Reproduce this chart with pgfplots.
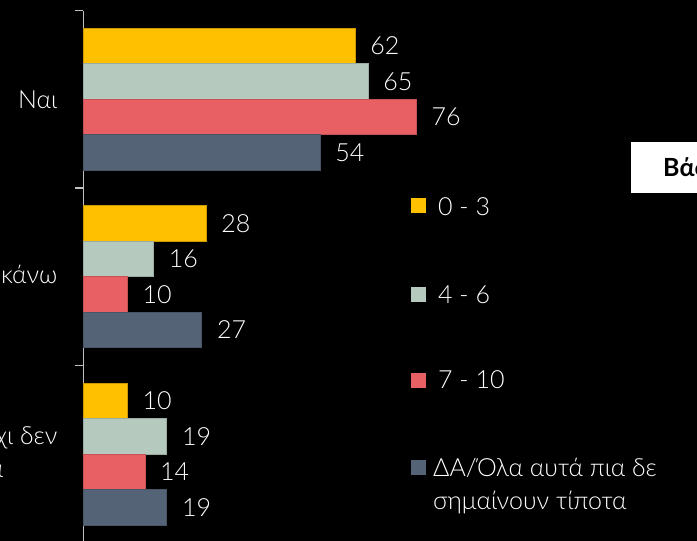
\documentclass[border=0pt]{standalone}
\usepackage{pgfplots}
\pgfplotsset{compat=1.18}
\usepackage{pgfplotstable}
\usepackage{fontspec}
\setmainfont{Lato}[UprightFont=* Light, BoldFont=* Bold]
\definecolor{cy}{HTML}{FFC000}
\definecolor{cg}{HTML}{B5C9BF}
\definecolor{cr}{HTML}{E96064}
\definecolor{cd}{HTML}{546476}
\definecolor{axg}{HTML}{BFBFBF}
\newcommand{\lbl}{\fontsize{25}{33}\selectfont}
\pgfplotstableread{
cat a b c d
0 62 65 76 54
1 28 16 10 27
2 10 19 14 19
}\data
\begin{document}
\begin{tikzpicture}[x=1pt,y=1pt]
\useasboundingbox (0pt,0pt) rectangle (697pt,541pt);
\clip (0pt,0pt) rectangle (697pt,541pt);
\fill[black] (0pt,0pt) rectangle (697pt,541pt);
\begin{axis}[
  at={(83.5pt,-2pt)}, anchor=south west,
  scale only axis, width=438pt, height=532.5pt,
  xbar, xmin=0, xmax=100,
  ymin=-0.5, ymax=2.5, y dir=reverse,
  axis x line=none, axis y line*=left,
  y axis line style={draw=axg, line width=1.2pt},
  ytick={-0.5,0.5,1.5,2.5}, yticklabels={},
  tick align=outside, major tick length=8pt,
  ytick style={draw=axg, line width=1.2pt},
  bar width=0.2,
  point meta=x,
  nodes near coords,
  /pgf/number format/assume math mode=true,
  every node near coord/.append style={white, font=\lbl, anchor=west, inner sep=0pt, xshift=15pt},
  clip=false,
]
\addplot[bar shift=0pt, fill=cy, draw=cy!80!black, line width=0.6pt] table[x=a, y expr=\thisrow{cat}-0.3]{\data};
\addplot[bar shift=0pt, fill=cg, draw=cg!85!black, line width=0.6pt] table[x=b, y expr=\thisrow{cat}-0.1]{\data};
\addplot[bar shift=0pt, fill=cr, draw=cr!85!black, line width=0.6pt] table[x=c, y expr=\thisrow{cat}+0.1]{\data};
\addplot[bar shift=0pt, fill=cd, draw=cd!85!black, line width=0.6pt] table[x=d, y expr=\thisrow{cat}+0.3]{\data};
\node[anchor=east, xshift=-26pt, white, font=\lbl, inner sep=0pt] at (axis cs:0,0) {Ναι};
\node[anchor=east, xshift=-26pt, white, font=\lbl, inner sep=0pt] at (axis cs:0,1) {Δεν ξέρω τι να κάνω};
\node[anchor=east, xshift=-26pt, white, font=\lbl, inner sep=0pt, align=right] at (axis cs:0,2) {Όχι δεν\\ισχύει πια\hspace*{54pt}};
\end{axis}
% legend
\fill[cy] (411pt,328pt) rectangle (426pt,343pt);
\fill[cg] (411pt,239pt) rectangle (426pt,254pt);
\fill[cr] (411pt,153pt) rectangle (426pt,168pt);
\fill[cd] (411pt,66pt) rectangle (426pt,81pt);
\node[anchor=base west, inner sep=0pt, white, font=\lbl] at (438pt,325pt) {0 - 3};
\node[anchor=base west, inner sep=0pt, white, font=\lbl] at (438pt,237.7pt) {4 - 6};
\node[anchor=base west, inner sep=0pt, white, font=\lbl] at (438pt,152.7pt) {7 - 10};
\node[anchor=base west, inner sep=0pt, white, font=\lbl] at (433pt,64.3pt) {ΔΑ/Όλα αυτά πια δε};
\node[anchor=base west, inner sep=0pt, white, font=\lbl] at (433pt,31pt) {σημαίνουν τίποτα};
% title box
\fill[white] (631pt,348pt) rectangle (720pt,399pt);
\node[anchor=base west, inner sep=0pt, black, font=\lbl\bfseries] at (663pt,364pt) {Βάση: Σύνολο};
\end{tikzpicture}
\end{document}
